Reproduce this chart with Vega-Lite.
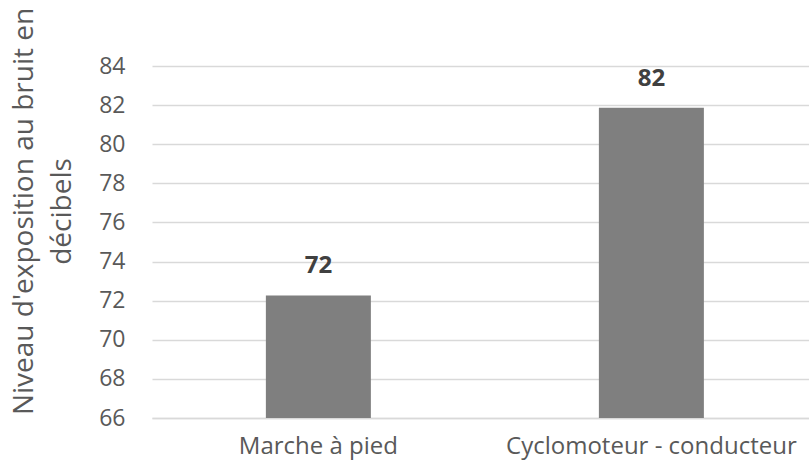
{
  "$schema": "https://vega.github.io/schema/vega-lite/v6.json",
  "width": 657,
  "height": 352,
  "autosize": {"type": "none"},
  "padding": {"left": 152, "top": 66, "right": 0, "bottom": 48},
  "background": "white",
  "title": {
    "text": "transport",
    "fontSize": 28,
    "fontWeight": "bold",
    "color": "#595959",
    "font": "Open Sans",
    "offset": 60,
    "anchor": "middle",
    "dx": -28
  },
  "data": {
    "values": [
      {"mode": "Marche à pied", "niveau": 72.27},
      {"mode": "Cyclomoteur - conducteur", "niveau": 81.87}
    ]
  },
  "config": {
    "view": {"stroke": null},
    "font": "Open Sans"
  },
  "encoding": {
    "x": {
      "field": "mode",
      "type": "nominal",
      "sort": null,
      "scale": {"paddingInner": 0.6847, "paddingOuter": 0.3288, "align": 0.52},
      "axis": {
        "title": null,
        "labelAngle": 0,
        "labelFontSize": 24,
        "labelColor": "#595959",
        "labelPadding": 16,
        "labelLimit": 0,
        "labelOverlap": false,
        "ticks": false,
        "domainColor": "#d9d9d9",
        "domainWidth": 1.5
      }
    },
    "y": {
      "field": "niveau",
      "type": "quantitative",
      "scale": {"domain": [66, 84], "zero": false},
      "axis": {
        "title": ["Niveau d'exposition au bruit en", "décibels"],
        "titleFontSize": 28,
        "titleFontWeight": "normal",
        "titleColor": "#595959",
        "titleLineHeight": 38,
        "titleY": 145,
        "titleX": -128,
        "titleBaseline": "middle",
        "values": [66, 68, 70, 72, 74, 76, 78, 80, 82, 84],
        "labelFontSize": 23,
        "labelColor": "#595959",
        "labelPadding": 27,
        "ticks": false,
        "domain": false,
        "gridColor": "#d9d9d9",
        "gridWidth": 1.5
      }
    }
  },
  "layer": [
    {"mark": {"type": "bar", "color": "#7f7f7f", "clip": true}},
    {
      "mark": {"type": "text", "dy": -29, "fontSize": 24, "fontWeight": "bold", "color": "#404040"},
      "encoding": {"text": {"field": "niveau", "type": "quantitative", "format": ".0f"}}
    }
  ]
}
